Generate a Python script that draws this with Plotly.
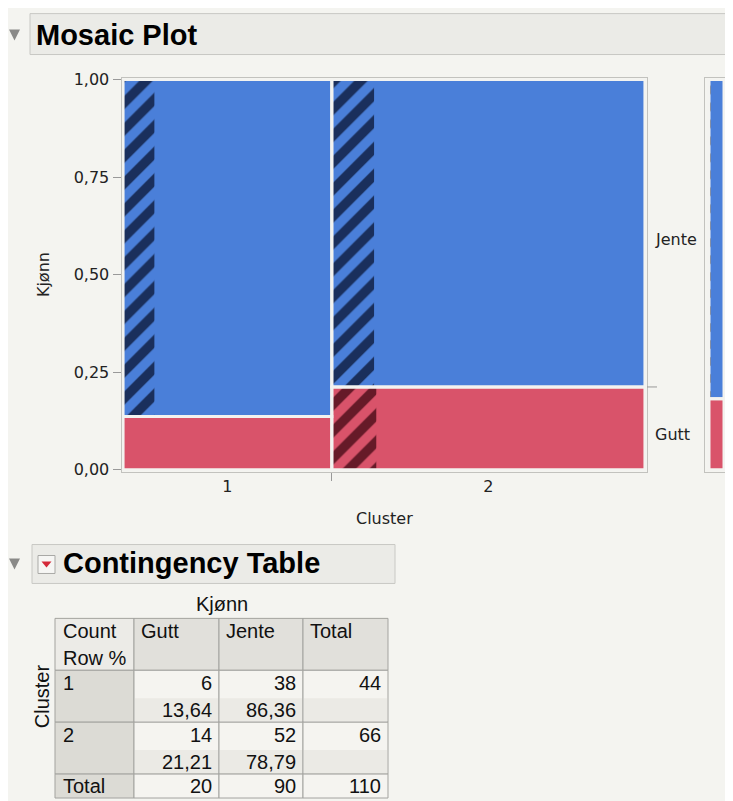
import plotly.graph_objects as go

# ---------------- data ----------------
clusters = ["1", "2"]
genders = ["Gutt", "Jente"]
gutt_counts = [6, 14]
jente_counts = [38, 52]
# share of each cell's width that is hatched (selected rows)
gutt_hatch = [0.0, 0.142]
jente_hatch = [0.15, 0.135]
margin_jente_hatch = 0.12
y_ticks = [0, 0.25, 0.5, 0.75, 1.0]

# ---------------- helpers (pixel -> paper, calibrated to the rendered page) ----------------
W, H = 733, 801
OX, OY, SY = 8.0, 13.4, 0.982
def px(x):
    return (x - OX) / W
def py(y):
    return 1 - ((y - OY) / SY) / H

BLUE = "#4a7fd9"
RED = "#d9536a"
BLUE_D = "#1a2f5c"
RED_D = "#661a28"
GAP = "#f3f3f0"
BG = "#f4f4f0"
FRAME = "#c2c2be"
FONT = "Liberation Sans, Arial, sans-serif"
AFONT = "DejaVu Sans, Verdana, sans-serif"

totals = [g + j for g, j in zip(gutt_counts, jente_counts)]
N = sum(totals)
col_w = [t / N for t in totals]
lefts = [sum(col_w[:i]) for i in range(len(col_w))]
centers = [l + w / 2 for l, w in zip(lefts, col_w)]
p_gutt = [g / t for g, t in zip(gutt_counts, totals)]
p_jente = [j / t for j, t in zip(jente_counts, totals)]
m_gutt = sum(gutt_counts) / N
m_jente = sum(jente_counts) / N

fig = go.Figure()

common = dict(showlegend=False, hoverinfo="skip")

# base cells
fig.add_trace(go.Bar(x=centers, y=p_gutt, base=[0] * len(centers), width=col_w,
                     marker=dict(color=RED, line=dict(width=0)), name="Gutt",
                     xaxis="x", yaxis="y", **common))
fig.add_trace(go.Bar(x=centers, y=p_jente, base=p_gutt, width=col_w,
                     marker=dict(color=BLUE, line=dict(width=0)), name="Jente",
                     xaxis="x", yaxis="y", **common))

# hatched (selected) parts
def hatch_trace(fracs, heights, bases, bg, fg):
    xs, ws, hs, bs = [], [], [], []
    for l, w, f, h, b in zip(lefts, col_w, fracs, heights, bases):
        if f > 0:
            xs.append(l + f * w / 2)
            ws.append(f * w)
            hs.append(h)
            bs.append(b)
    return go.Bar(x=xs, y=hs, base=bs, width=ws,
                  marker=dict(color=bg, line=dict(width=0),
                              pattern=dict(shape="/", bgcolor=bg, fgcolor=fg, fgopacity=1,
                                           size=19, solidity=0.5)),
                  xaxis="x", yaxis="y", **common)

fig.add_trace(hatch_trace(gutt_hatch, p_gutt, [0] * len(p_gutt), RED, RED_D))
fig.add_trace(hatch_trace(jente_hatch, p_jente, p_gutt, BLUE, BLUE_D))

# cell outlines (gaps)
fig.add_trace(go.Bar(x=centers + centers, y=p_gutt + p_jente,
                     base=[0] * len(centers) + p_gutt, width=col_w + col_w,
                     marker=dict(color="rgba(0,0,0,0)", line=dict(color=GAP, width=3)),
                     xaxis="x", yaxis="y", **common))

# marginal bar
fig.add_trace(go.Bar(x=[0.5], y=[m_gutt], base=[0], width=[1],
                     marker=dict(color=RED, line=dict(width=0)),
                     xaxis="x2", yaxis="y2", **common))
fig.add_trace(go.Bar(x=[0.5], y=[m_jente], base=[m_gutt], width=[1],
                     marker=dict(color=BLUE, line=dict(width=0)),
                     xaxis="x2", yaxis="y2", **common))
fig.add_trace(go.Bar(x=[margin_jente_hatch / 2], y=[m_jente], base=[m_gutt],
                     width=[margin_jente_hatch],
                     marker=dict(color=BLUE, line=dict(width=0),
                                 pattern=dict(shape="/", bgcolor=BLUE, fgcolor=BLUE_D, fgopacity=1,
                                              size=12, solidity=0.5)),
                     xaxis="x2", yaxis="y2", **common))
fig.add_trace(go.Bar(x=[0.5, 0.5], y=[m_gutt, m_jente], base=[0, m_gutt], width=[1, 1],
                     marker=dict(color="rgba(0,0,0,0)", line=dict(color=GAP, width=3)),
                     xaxis="x2", yaxis="y2", **common))

# ---------------- layout ----------------
axis_common = dict(showgrid=False, zeroline=False, showline=True, mirror=True,
                   linecolor=FRAME, linewidth=1, fixedrange=True)

fig.update_layout(
    width=W, height=H,
    margin=dict(l=0, r=0, t=0, b=0),
    paper_bgcolor=BG, plot_bgcolor=BG,
    barmode="overlay",
    separators=", ",
    font=dict(family=AFONT, size=16, color="#222"),
    xaxis=dict(domain=[px(121.5), px(646.5)], range=[-0.003, 1.003],
               tickvals=centers, ticktext=clusters, ticks="",
               tickfont=dict(family=AFONT, size=16, color="#222"),
               minor=dict(tickvals=lefts[1:], ticks="outside", ticklen=8,
                          tickcolor="#999", tickwidth=1),
               anchor="y", **axis_common),
    yaxis=dict(domain=[py(470), py(76)], range=[-0.005, 1.0026],
               tickvals=y_ticks, tickformat=".2f", ticks="outside", ticklen=8,
               tickcolor="#999", tickfont=dict(family=AFONT, size=16, color="#222"),
               anchor="x", **axis_common),
    xaxis2=dict(domain=[px(705), px(728)], range=[-0.267, 1.267], showticklabels=False,
                ticks="", anchor="y2", **axis_common),
    yaxis2=dict(domain=[py(470), py(76)], range=[-0.005, 1.0026], showticklabels=False,
                ticks="", anchor="x2", **axis_common),
)

shapes = [
    # Mosaic Plot header
    dict(type="rect", xref="paper", yref="paper", x0=px(30), x1=px(745), y0=py(52), y1=py(11),
         fillcolor="#ebebe7", line=dict(color="#c8c8c4", width=1), layer="below"),
    dict(type="path", xref="paper", yref="paper",
         path=f"M {px(9)},{py(27)} L {px(20)},{py(27)} L {px(14.5)},{py(38)} Z",
         fillcolor="#8a8a88", line=dict(width=0)),
    # Contingency header
    dict(type="rect", xref="paper", yref="paper", x0=px(32), x1=px(395), y0=py(582), y1=py(543),
         fillcolor="#ebebe7", line=dict(color="#c8c8c4", width=1), layer="below"),
    dict(type="path", xref="paper", yref="paper",
         path=f"M {px(9)},{py(557)} L {px(20)},{py(557)} L {px(14.5)},{py(568)} Z",
         fillcolor="#8a8a88", line=dict(width=0)),
    dict(type="rect", xref="paper", yref="paper", x0=px(38), x1=px(55), y0=py(572), y1=py(554),
         fillcolor="#f6f6f4", line=dict(color="#a9a9a6", width=1)),
    dict(type="path", xref="paper", yref="paper",
         path=f"M {px(41.5)},{py(560)} L {px(51.5)},{py(560)} L {px(46.5)},{py(566)} Z",
         fillcolor="#d42a3a", line=dict(width=0)),
    # right-axis level separator tick
    dict(type="line", xref="paper", yref="y", x0=px(647), x1=px(657),
         y0=p_gutt[-1], y1=p_gutt[-1], line=dict(color="#999", width=1)),
]

ann = [
    dict(text="<b>Mosaic Plot</b>", x=px(34), y=py(32), xanchor="left", yanchor="middle",
         font=dict(family=FONT, size=29, color="#000")),
    dict(text="<b>Contingency Table</b>", x=px(61), y=py(562), xanchor="left", yanchor="middle",
         font=dict(family=FONT, size=29, color="#000")),
    dict(text="Kjønn", x=px(43), y=py(273), textangle=-90, xanchor="center", yanchor="middle",
         font=dict(family=AFONT, size=16, color="#222")),
    dict(text="Cluster", x=px(384), y=py(517), xanchor="center", yanchor="middle",
         font=dict(family=AFONT, size=16, color="#222")),
]

# ---------------- contingency table (drawn cell by cell) ----------------
def fmt(v):
    return f"{v:.2f}".replace(".", ",")

col_tot = [sum(gutt_counts), sum(jente_counts)]
col_edges = [55, 134, 219, 303, 388]
row_edges = [617, 669, 721, 773, 797]
TLINE = "#a3a39f"
HEAD0 = "#ecebe7"
HEAD = "#e1e0db"
C0 = "#dcdbd5"
CELL = "#f5f4f0"
BAND = "#ebeae5"
TFS = 20

def cell_rect(c, r, fill):
    return dict(type="rect", xref="paper", yref="paper",
                x0=px(col_edges[c]), x1=px(col_edges[c + 1]),
                y0=py(row_edges[r + 1]), y1=py(row_edges[r]),
                fillcolor=fill, line=dict(color=TLINE, width=1), layer="below")

n_rows = len(row_edges) - 1
n_cols = len(col_edges) - 1
for r in range(n_rows):
    for c in range(n_cols):
        if r == 0:
            fill = HEAD0 if c == 0 else HEAD
        elif c == 0:
            fill = C0
        else:
            fill = CELL
        shapes.append(cell_rect(c, r, fill))
        # band behind the row-% line in the data rows
        if 0 < r < n_rows - 1 and c > 0:
            mid = (row_edges[r] + row_edges[r + 1]) / 2
            shapes.append(dict(type="rect", xref="paper", yref="paper",
                               x0=px(col_edges[c] + 1), x1=px(col_edges[c + 1] - 1),
                               y0=py(row_edges[r + 1] - 1), y1=py(mid + 2),
                               fillcolor=BAND, line=dict(width=0), layer="below"))

def tt(text, x, y, anchor="left"):
    return dict(text=text, x=px(x), y=py(y), xanchor=anchor, yanchor="middle",
                font=dict(family=FONT, size=TFS, color="#111"))

L1, L2 = 13, 40  # first/second text line offsets inside a row
ann.append(tt("Count", col_edges[0] + 6, row_edges[0] + L1))
ann.append(tt("Row %", col_edges[0] + 6, row_edges[0] + L2))
for c, h in enumerate(genders + ["Total"]):
    ann.append(tt(h, col_edges[c + 1] + 5, row_edges[0] + L1))

for i, cl in enumerate(clusters):
    top = row_edges[i + 1]
    ann.append(tt(cl, col_edges[0] + 6, top + L1))
    vals = [gutt_counts[i], jente_counts[i]]
    for c, v in enumerate(vals):
        ann.append(tt(str(v), col_edges[c + 2] - 5, top + L1, "right"))
        ann.append(tt(fmt(100 * v / totals[i]), col_edges[c + 2] - 5, top + L2, "right"))
    ann.append(tt(str(totals[i]), col_edges[4] - 5, top + L1, "right"))

tot_mid = (row_edges[-2] + row_edges[-1]) / 2
ann.append(tt("Total", col_edges[0] + 6, tot_mid))
for c, v in enumerate(col_tot + [N]):
    ann.append(tt(str(v), col_edges[c + 2] - 5, tot_mid, "right"))

ann.append(dict(text="Kjønn", x=px((col_edges[0] + col_edges[-1]) / 2), y=py(603),
                xanchor="center", yanchor="middle", font=dict(family=FONT, size=TFS, color="#111")))
ann.append(dict(text="Cluster", x=px(42), y=py(695), textangle=-90, xanchor="center",
                yanchor="middle", font=dict(family=FONT, size=TFS, color="#111")))

for a in ann:
    a.update(xref="paper", yref="paper", showarrow=False)

ann += [
    dict(text="Jente", xref="paper", yref="y", x=px(653), y=m_gutt + m_jente / 2,
         xanchor="left", yanchor="middle", showarrow=False,
         font=dict(family=AFONT, size=16, color="#222")),
    dict(text="Gutt", xref="paper", yref="y", x=px(653), y=m_gutt / 2,
         xanchor="left", yanchor="middle", showarrow=False,
         font=dict(family=AFONT, size=16, color="#222")),
]

fig.update_layout(shapes=shapes, annotations=ann)

fig.write_html("out.html")
